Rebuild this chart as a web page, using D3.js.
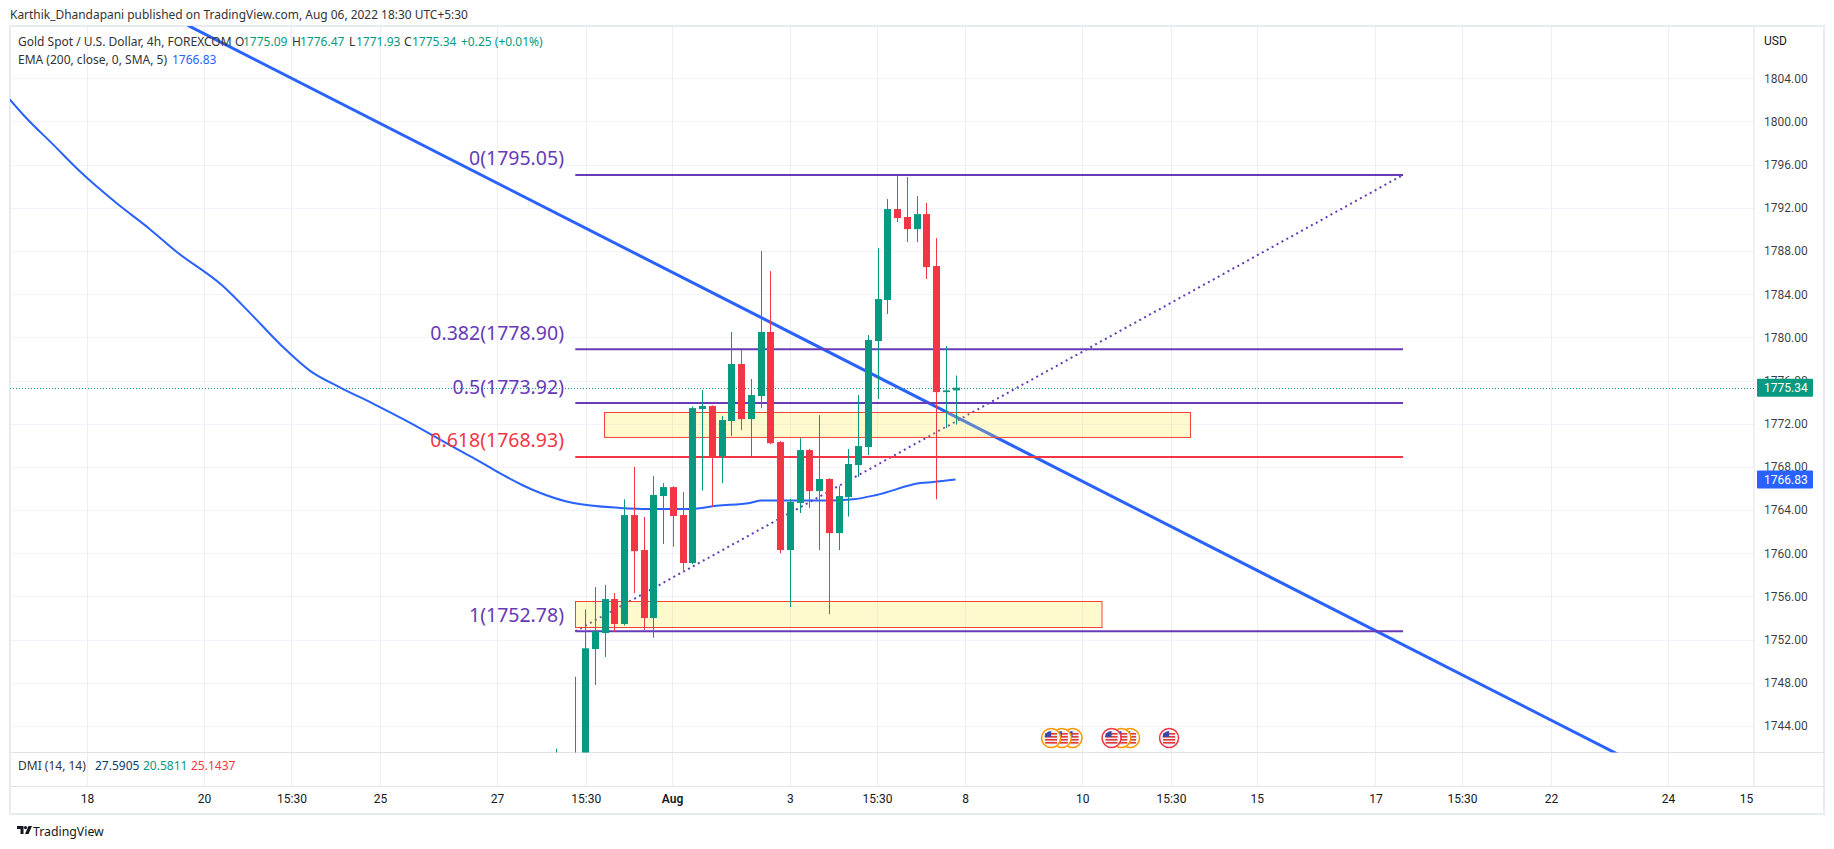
<!DOCTYPE html>
<html><head><meta charset="utf-8">
<script src="https://cdn.jsdelivr.net/npm/d3@7/dist/d3.min.js"></script>
<style>html,body{margin:0;padding:0;background:#fff;overflow:hidden}svg{display:block}text{font-family:"Noto Sans",sans-serif}</style>
</head><body><svg id="c" width="1834" height="849"></svg>
<script>
// candle index, relative to first visible green candle
const candleIdx=[-2,0,1,2,3,4,5,6,7,8,9,10,11,12,13,14,15,16,17,18,19,20,21,22,23,24,25,26,27,28,29,30,31,32,33,34,35,36,37,38,39];
const opens=[1738,1735,1741,1751.13,1752.61,1755.76,1753.45,1763.54,1760.3,1754,1765.3,1766.13,1763.54,1759.1,1773.36,1773.64,1769,1772.25,1777.53,1772.43,1774.56,1780.5,1770.3,1760.3,1764.66,1769.56,1765.76,1766.88,1761.87,1765.2,1768.17,1769.84,1779.66,1783.46,1791.89,1791.15,1790.03,1791.42,1786.61,1774.93,1775.09];
const highs=[1741.9,1748.56,1754.8,1756.87,1757.06,1756.32,1765,1767.99,1763.36,1767.15,1766.5,1766.2,1765.67,1773.6,1775.12,1773.7,1772.71,1780.5,1778.83,1776.14,1788,1786.14,1770.4,1765.03,1770.67,1769.65,1772.8,1766.95,1766.25,1769.66,1774.66,1780.22,1788.27,1792.81,1794.94,1794.85,1793.09,1792.44,1789.2,1779.2,1776.47];
const lows=[1735,1730,1740,1747.8,1750.4,1752.73,1753.3,1756.32,1752.9,1752.17,1760.85,1760.6,1758.4,1759,1765.8,1764.31,1766.5,1770.86,1771.41,1768.91,1773.45,1770.1,1760,1755.02,1763.73,1764.2,1760.3,1754.36,1760.3,1763.4,1767.06,1769.1,1774.29,1782.16,1790.68,1788.83,1788.83,1785.4,1765.02,1771.6,1771.93];
const closes=[1740,1740,1751.2,1752.77,1755.76,1753.45,1763.54,1760.2,1754,1765.4,1766.13,1763.45,1759.1,1773.45,1773.64,1768.98,1772.34,1777.53,1772.43,1774.66,1780.5,1770.2,1760.3,1764.75,1769.56,1765.76,1766.88,1761.87,1765.3,1768.27,1769.93,1779.75,1783.55,1791.89,1791.05,1790.03,1791.42,1786.51,1774.93,1775.09,1775.34];

const emaIdx=[-58,-56.6,-53.6,-50.6,-47,-43.6,-41,-36.2,-33.3,-30.2,-27.2,-24.2,-20.6,-17.6,-13.5,-11,-9.8,-7.7,-5.4,-3.9,-0.2,4.6,7.7,11.8,14.5,17.9,19.1,21.3,26.4,28.5,30.9,35.4,36.7,39];
const emaVal=[1802.04,1800.6,1797.9,1795.2,1792.4,1790.0,1788,1784.8,1782.2,1779.3,1776.9,1775.4,1773.8,1772.4,1770.35,1769.1,1768.5,1767.4,1766.3,1765.7,1764.65,1764.2,1764.1,1764.1,1764.4,1764.65,1764.9,1764.9,1764.9,1765,1765.4,1766.5,1766.6,1766.83];

const priceTicks=[1744,1748,1752,1756,1760,1764,1768,1772,1776,1780,1784,1788,1792,1796,1800,1804];
const timeIdx=[-50.08,-38.08,-29.11,-20.03,-8.03,1.07,9.92,22.02,30.94,39.97,52,61.1,69.9,82.07,90.94,100.07,112.07,120.07];
const timeLabels=["18","20","15:30","25","27","15:30","Aug","3","15:30","8","10","15:30","15","17","15:30","22","24","15"];
const timeBold=["Aug"];

const fibLabels=["0(1795.05)","0.382(1778.90)","0.5(1773.92)","0.618(1768.93)","1(1752.78)"];
const fibVals=[1795.05,1778.9,1773.92,1768.93,1752.78];
const fibColors=["#673ab7","#673ab7","#673ab7","#f23645","#673ab7"];
const fibEnd=84.9;
const trendIdx=[-39.74,107.2];
const trendVal=[1808.9,1741.26];
const zoneFrom=[2.9,0], zoneTo=[63,54], zoneTop=[1773.05,1755.55], zoneBottom=[1770.74,1753.14];
const eventIdx=[51,49.9,48.8,56.9,56,55,60.9];
const eventRing=["#ff9800","#ff9800","#ff9800","#ff9800","#ff9800","#f23645","#f23645"];

const GREEN="#089981",RED="#f23645",BLUE="#2962ff";
const L=10,T=26,R=1754,B=752.5,FR=1824,FB=814,AX=786.5;
const x=d3.scaleLinear().domain([0,39]).range([575.3,955.55]);
const y=d3.scaleLinear().domain([1744,1804]).range([726,78.3]);
const svg=d3.select("#c");
const defs=svg.append("defs");
defs.append("clipPath").attr("id","pane").append("rect").attr("x",L).attr("y",T).attr("width",R-L).attr("height",B-T);

// grid
const grid=svg.append("g").attr("clip-path","url(#pane)");
grid.selectAll(".h").data(priceTicks).join("line").attr("x1",L).attr("x2",R).attr("y1",d=>Math.round(y(d))+.5).attr("y2",d=>Math.round(y(d))+.5).attr("stroke","#f0f3fa");
svg.append("g").selectAll("line").data(timeIdx.slice(0,-1)).join("line").attr("x1",d=>Math.round(x(d))+.5).attr("x2",d=>Math.round(x(d))+.5).attr("y1",T).attr("y2",AX).attr("stroke","#eceef3");

// frame
svg.append("rect").attr("x",L).attr("y",T).attr("width",FR-L).attr("height",FB-T).attr("fill","none").attr("stroke","#e9ebf2").attr("stroke-width",2);
[B,AX].forEach(v=>svg.append("line").attr("x1",L).attr("x2",FR).attr("y1",v).attr("y2",v).attr("stroke","#e0e3eb"));
svg.append("line").attr("x1",R).attr("x2",R).attr("y1",T).attr("y2",AX).attr("stroke","#e0e3eb");

const pane=svg.append("g").attr("clip-path","url(#pane)");
// trend
pane.append("line").attr("x1",x(trendIdx[0])).attr("y1",y(trendVal[0])).attr("x2",x(trendIdx[1])).attr("y2",y(trendVal[1])).attr("stroke",BLUE).attr("stroke-width",3);
// ema
pane.append("path").datum(emaIdx.map((d,i)=>[d,emaVal[i]])).attr("fill","none").attr("stroke",BLUE).attr("stroke-width",2)
  .attr("d",d3.line().x(d=>x(d[0])).y(d=>y(d[1])).curve(d3.curveMonotoneX));
// dotted fib trend
pane.append("line").attr("x1",x(0)).attr("y1",y(fibVals[4])).attr("x2",x(fibEnd)).attr("y2",y(fibVals[0])).attr("stroke","#673ab7").attr("stroke-width",2).attr("stroke-dasharray","2 3.6");
// zones
pane.selectAll(".z").data(zoneFrom).join("rect").attr("x",(d)=>Math.round(x(d))+.5).attr("width",(d,i)=>x(zoneTo[i])-x(d))
  .attr("y",(d,i)=>Math.round(y(zoneTop[i]))+.5).attr("height",(d,i)=>y(zoneBottom[i])-y(zoneTop[i]))
  .attr("fill","rgba(255,235,59,.25)").attr("stroke","#f44336");
// fib lines
pane.selectAll(".f").data(fibVals).join("line").attr("x1",x(0)).attr("x2",x(fibEnd)).attr("y1",d=>y(d)).attr("y2",d=>y(d)).attr("stroke",(d,i)=>fibColors[i]).attr("stroke-width",2);
svg.append("g").selectAll("text").data(fibLabels).join("text").text(d=>d).attr("x",564).attr("y",(d,i)=>y(fibVals[i])-9.5)
  .attr("text-anchor","end").attr("font-size",19.5).attr("fill",(d,i)=>fibColors[i]);
// last price line
pane.append("line").attr("x1",L).attr("x2",R).attr("y1",Math.round(y(closes[closes.length-1]))+.5).attr("y2",Math.round(y(closes[closes.length-1]))+.5).attr("stroke",GREEN).attr("stroke-dasharray","1 2");
// candles
const cg=pane.selectAll(".c").data(candleIdx).join("g");
const col=i=>closes[i]>=opens[i]?GREEN:RED;
cg.append("line").attr("x1",d=>Math.round(x(d))+.5).attr("x2",d=>Math.round(x(d))+.5).attr("y1",(d,i)=>y(highs[i])).attr("y2",(d,i)=>y(lows[i])).attr("stroke",(d,i)=>col(i));
cg.append("rect").attr("x",d=>Math.round(x(d))-3).attr("width",7).attr("y",(d,i)=>y(Math.max(opens[i],closes[i])))
  .attr("height",(d,i)=>Math.max(1,Math.abs(y(opens[i])-y(closes[i])))).attr("fill",(d,i)=>col(i));

// events
const ev=pane.selectAll(".e").data(eventIdx).join("g").attr("transform",d=>`translate(${x(d)},738)`);
ev.append("circle").attr("r",9.5).attr("fill","#fff").attr("stroke",(d,i)=>eventRing[i]).attr("stroke-width",1.6);
ev.append("circle").attr("r",7).attr("fill","#e8eaf0");
[-5,-2,1,4].forEach(o=>ev.append("rect").attr("x",-6).attr("y",o).attr("width",12).attr("height",1.6).attr("fill","#e53935"));
ev.append("path").attr("d","M-6.6,-1 A7,7 0 0 1 0,-7 L0,-1 Z").attr("fill","#3949ab");

// axes
const ya=svg.append("g").attr("transform",`translate(1764,0)`).call(d3.axisRight(y).tickValues(priceTicks).tickSize(0).tickPadding(0).tickFormat(d3.format(".2f")));
ya.select(".domain").remove();
ya.selectAll("text").attr("font-family","Roboto").style("font-family","Roboto").attr("font-size",12).attr("fill","#131722").attr("fill-opacity",.85);
const xa=svg.append("g").attr("transform",`translate(0,794)`).call(d3.axisBottom(x).tickValues(timeIdx).tickSize(0).tickPadding(0).tickFormat((d,i)=>timeLabels[i]));
xa.select(".domain").remove();
xa.selectAll("text").attr("font-family","Roboto").style("font-family","Roboto").attr("font-size",12).attr("fill","#131722").attr("font-weight",(d,i)=>timeBold.includes(timeLabels[i])?600:400);

// price tags
function tag(v,c){const py=y(v);svg.append("rect").attr("x",1757).attr("y",py-9).attr("width",56).attr("height",18).attr("rx",1).attr("fill",c);
 svg.append("text").text(v.toFixed(2)).attr("x",1764).attr("y",py+4.5).attr("font-size",12).attr("fill","#fff").style("font-family","Roboto");}
tag(closes[closes.length-1],GREEN);tag(emaVal[emaVal.length-1],BLUE);

// text helper
function t(s,px,py,c,fs,a){return svg.append("text").text(s).attr("x",px).attr("y",py).attr("fill",c||"#131722").attr("font-size",fs||12).attr("text-anchor",a||"start");}
t("Karthik_Dhandapani published on TradingView.com, Aug 06, 2022 18:30 UTC+5:30",10,19,"#333",11.95);
t("Gold Spot / U.S. Dollar, 4h, FOREXCOM",18,46,"#333",12);
t("O",235,46,"#333");t("1775.09",243,46,GREEN);t("H",292,46,"#333");t("1776.47",300,46,GREEN);
t("L",349,46,"#333");t("1771.93",356,46,GREEN);t("C",404,46,"#333");t("1775.34",412,46,GREEN);t("+0.25 (+0.01%)",461,46,GREEN);
t("EMA (200, close, 0, SMA, 5)",18,64,"#333");t("1766.83",172,64,BLUE);
t("DMI (14, 14)",18,770,"#333");t("27.5905",95,770,"#0b3d66");t("20.5811",143,770,GREEN);t("25.1437",191,770,RED);
t("USD",1764,45,"#131722",12).style("font-family","Roboto");

// footer logo
const lg=svg.append("g").attr("transform","translate(17,826)").attr("fill","#131722");
lg.append("path").attr("d","M0,0H6.5V8H3.5V3H0Z");
lg.append("circle").attr("cx",8.5).attr("cy",1.6).attr("r",1.6);
lg.append("path").attr("d","M11.5,0H15L11.5,8H8Z");
t("TradingView",33,836,"#131722",12.3);
</script></body></html>
